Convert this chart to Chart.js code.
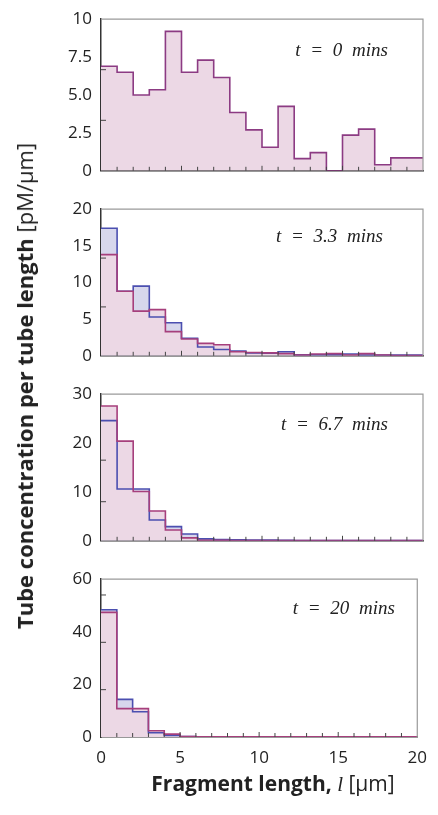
<!DOCTYPE html>
<html>
<head>
<meta charset="utf-8">
<script src="https://cdn.jsdelivr.net/npm/chart.js@4"></script>
<style>
  body { margin: 0; background: #fff; }
  #wrap { position: relative; width: 438px; height: 815px; overflow: hidden; }
  canvas { position: absolute; left: 0; }
  .lbl { position: absolute; white-space: nowrap; font-family: "Liberation Serif", serif; font-style: italic; font-size: 19px; color: #222; word-spacing: 5px; }
  #ytitle { position: absolute; left: 24px; top: 386px; transform: translate(-50%, -50%) rotate(-90deg); white-space: nowrap;
            font-family: "Open Sans", sans-serif; font-size: 22px; color: #222; }
  #xtitle { position: absolute; left: 273px; top: 783px; transform: translate(-50%, -50%); white-space: nowrap;
            font-family: "Open Sans", sans-serif; font-size: 21px; color: #222; }
  b { font-weight: 700; }
</style>
</head>
<body>
<div id="wrap">
  <canvas id="c0" width="438" height="190" style="top:0px"></canvas>
  <canvas id="c1" width="438" height="185" style="top:190px"></canvas>
  <canvas id="c2" width="438" height="185" style="top:375px"></canvas>
  <canvas id="c3" width="438" height="255" style="top:560px"></canvas>
  <div class="lbl" style="right:50px;top:39px">t = 0 mins</div>
  <div class="lbl" style="right:55px;top:225px">t = 3.3 mins</div>
  <div class="lbl" style="right:50px;top:413px">t = 6.7 mins</div>
  <div class="lbl" style="right:43px;top:597px">t = 20 mins</div>
  <div id="ytitle"><b>Tube concentration per tube length</b> [pM/µm]</div>
  <div id="xtitle"><b>Fragment length,</b> <i style="font-family:'Liberation Serif',serif">l</i> [µm]</div>
</div>
<script>
// bins of 1 µm from 0 to 20
var binEdges = [0, 1, 2, 3, 4, 5, 6, 7, 8, 9, 10, 11, 12, 13, 14, 15, 16, 17, 18, 19, 20];

// t = 0 mins (both curves coincide)
var t0 = [6.9, 6.5, 5.0, 5.35, 9.2, 6.5, 7.3, 6.15, 3.85, 2.7, 1.55, 4.25, 0.8, 1.2, 0.0, 2.35, 2.75, 0.4, 0.85, 0.85];
// t = 3.3 mins
var t33Blue = [17.4, 8.8, 9.5, 5.3, 4.5, 2.4, 1.2, 0.85, 0.65, 0.4, 0.35, 0.55, 0.15, 0.15, 0.15, 0.25, 0.1, 0.1, 0.1, 0.1];
var t33Red  = [13.8, 8.8, 6.1, 6.3, 3.3, 2.3, 1.7, 1.5, 0.55, 0.45, 0.4, 0.3, 0.1, 0.25, 0.3, 0.1, 0.3, 0.1, 0.05, 0.05];
// t = 6.7 mins
var t67Blue = [24.6, 10.6, 10.6, 4.25, 2.9, 1.4, 0.4, 0.25, 0.2, 0.15, 0.15, 0.1, 0.05, 0.05, 0.05, 0.05, 0.05, 0.05, 0.05, 0.05];
var t67Red  = [27.6, 20.4, 10.1, 6.1, 2.2, 0.6, 0.1, 0.1, 0.05, 0.05, 0.05, 0.05, 0.05, 0.05, 0.05, 0.05, 0.05, 0.05, 0.05, 0.05];
// t = 20 mins
var t20Blue = [48.4, 14.3, 9.6, 1.6, 0.6, 0.2, 0.05, 0.05, 0.05, 0.05, 0.05, 0.05, 0.05, 0.05, 0.05, 0.05, 0.05, 0.05, 0.05, 0.05];
var t20Red  = [47.4, 10.8, 10.8, 2.4, 1.1, 0.2, 0.05, 0.05, 0.05, 0.05, 0.05, 0.05, 0.05, 0.05, 0.05, 0.05, 0.05, 0.05, 0.05, 0.05];

// y tick labels per panel
var yTicks = [[0, 2.5, 5, 7.5, 10], [0, 5, 10, 15, 20], [0, 10, 20, 30], [0, 20, 40, 60]];
var yTickText = [['0', '2.5', '5.0', '7.5', '10'], ['0', '5', '10', '15', '20'], ['0', '10', '20', '30'], ['0', '20', '40', '60']];
// small inward marks on the left axis
var yMinor = [[3.33, 6.67], [6.67, 13.33], [8, 16.5], [18, 36, 54]];
var xTicks = [0, 5, 10, 15, 20];

var RED = '#a63f7c', RED_FILL = '#ecd8e5';
var BLUE = '#4b4fb0', BLUE_FILL = '#d7d7ec';
var PURPLE = '#8c3b83';

function steps(vals) {
    var pts = vals.map(function (v, i) { return { x: binEdges[i], y: v }; });
    pts.push({ x: binEdges[vals.length], y: vals[vals.length - 1] });
    return pts;
}
function series(vals, line, fillc) {
    return { data: steps(vals), borderColor: line, backgroundColor: fillc, borderWidth: 1.6,
             fill: 'origin', stepped: true, pointRadius: 0, tension: 0 };
}

var frame = {
    id: 'frame',
    afterDraw: function (chart, args, o) {
        var a = chart.chartArea, ctx = chart.ctx, xs = chart.scales.x, ys = chart.scales.y;
        ctx.save();
        ctx.strokeStyle = '#9a9a9a'; ctx.lineWidth = 1.2;
        ctx.beginPath();
        ctx.moveTo(a.left, a.top); ctx.lineTo(a.right, a.top); ctx.lineTo(a.right, a.bottom);
        ctx.stroke();
        ctx.strokeStyle = '#444'; ctx.lineWidth = 1;
        ctx.beginPath();
        for (var i = 1; i < binEdges.length - 1; i++) {
            var px = xs.getPixelForValue(binEdges[i]);
            ctx.moveTo(px, a.bottom); ctx.lineTo(px, a.bottom - (binEdges[i] % 5 === 0 ? 5 : 4));
        }
        o.minor.forEach(function (v) {
            var py = ys.getPixelForValue(v);
            ctx.moveTo(a.left, py); ctx.lineTo(a.left + 5, py);
        });
        ctx.stroke();
        ctx.restore();
    }
};

function panel(id, idx, datasets, ymax, padTop, padBottom, showX) {
    new Chart(document.getElementById(id), {
        type: 'line',
        data: { datasets: datasets },
        plugins: [frame],
        options: {
            responsive: false, animation: false, devicePixelRatio: 1,
            layout: { padding: { top: padTop, bottom: padBottom, left: 0, right: 15 } },
            plugins: { legend: { display: false }, tooltip: { enabled: false },
                       filler: { drawTime: 'beforeDatasetsDraw' }, frame: { minor: yMinor[idx] } },
            scales: {
                x: {
                    type: 'linear', min: 0, max: 20,
                    grid: { display: false, drawTicks: false },
                    border: { display: true, color: '#333', width: 1.5 },
                    afterBuildTicks: function (s) { s.ticks = xTicks.map(function (v) { return { value: v }; }); },
                    afterFit: function (s) { s.height = showX ? 36 : 0; },
                    ticks: { display: showX, padding: 11, color: '#222', maxRotation: 0,
                             font: { family: 'Open Sans', size: 17 } }
                },
                y: {
                    min: 0, max: ymax,
                    grid: { display: false, drawTicks: false },
                    border: { display: true, color: '#333', width: 1.5 },
                    afterBuildTicks: function (s) { s.ticks = yTicks[idx].map(function (v) { return { value: v }; }); },
                    afterFit: function (s) { s.width = 101; },
                    ticks: { padding: 9, color: '#222', font: { family: 'Open Sans', size: 17 },
                             callback: function (v) { return yTickText[idx][yTicks[idx].indexOf(v)]; } }
                }
            }
        }
    });
}

panel('c0', 0, [series(t0, PURPLE, RED_FILL)], 10, 18, 10, false);
panel('c1', 1, [series(t33Red, RED, RED_FILL), series(t33Blue, BLUE, BLUE_FILL)], 20, 14, 10, false);
panel('c2', 2, [series(t67Red, RED, RED_FILL), series(t67Blue, BLUE, BLUE_FILL)], 30, 15, 10, false);
panel('c3', 3, [series(t20Red, RED, RED_FILL), series(t20Blue, BLUE, BLUE_FILL)], 60, 16, 255 - 177 - 36, true);
</script>
</body>
</html>
